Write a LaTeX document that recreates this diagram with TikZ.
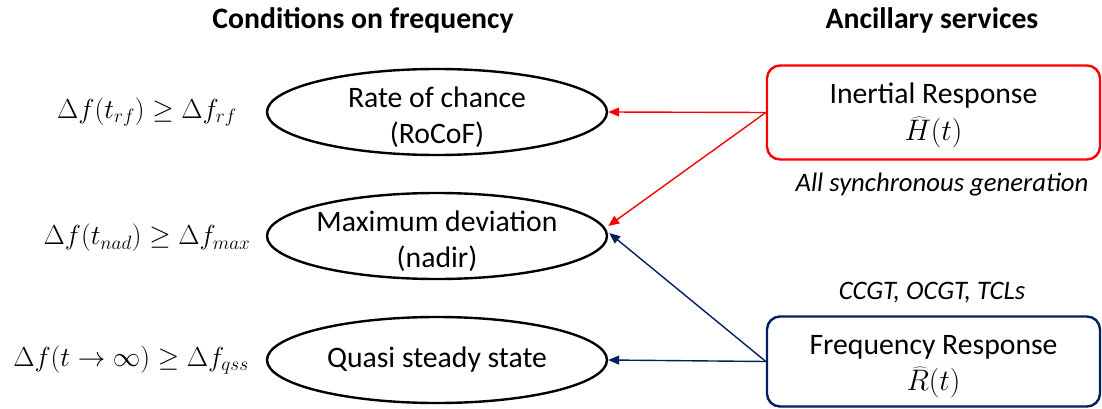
\RequirePackage{fix-cm}
\documentclass[tikz,border=0pt]{standalone}
\usepackage{fontspec}
\setmainfont{Carlito}
\usetikzlibrary{shapes.geometric,arrows.meta,calc}

\definecolor{navy}{HTML}{002060}
\definecolor{pptred}{HTML}{FF0000}

\tikzset{
  body/.style={font=\fontsize{29.7}{36.5}\selectfont},
  header/.style={font=\fontsize{29.7}{34}\selectfont\bfseries},
  note/.style={font=\fontsize{26.7}{30}\selectfont\itshape},
  inner text/.style={body, align=center, inner sep=0pt},
  cond/.style={ellipse, draw=black, line width=2.4pt, minimum width=340pt,
    minimum height=86pt, inner sep=0pt, align=center, body},
  service/.style={rectangle, rounded corners=13pt, line width=2.4pt,
    minimum width=333pt, minimum height=94pt, inner sep=0pt},
  formula/.style={font=\fontsize{27.5}{34}\selectfont, inner sep=0pt},
  link/.style={line width=1.4pt, -{Triangle[length=11pt,width=9pt]}},
}

\begin{document}
\begin{tikzpicture}[x=1pt,y=1pt]
  \useasboundingbox (0,0) rectangle (1102,-409);

  % column headings
  \node[header] (hcond) at (363,-20) {Conditions on frequency};
  \node[header] (hserv) at (932,-20) {Ancillary services};

  % frequency conditions
  \node[cond, label={[inner text, yshift=-5pt]center:{Rate of chance\\(RoCoF)}}]
    (e1) at (437,-112) {};
  \node[cond, label={[inner text, yshift=-5pt]center:{Maximum deviation\\(nadir)}}]
    (e2) at (437,-236) {};
  \node[cond] (e3) at (437,-360) {Quasi steady state};

  % limits on the frequency deviation
  \node[formula] (f1) at (147,-112) {$\Delta f\bigl(t_{rf}\bigr) \geq \Delta f_{rf}$};
  \node[formula] (f2) at (147,-238) {$\Delta f(t_{nad}) \geq \Delta f_{max}$};
  \node[formula] (f3) at (131,-360) {$\Delta f(t \rightarrow \infty) \geq \Delta f_{qss}$};

  % services
  \node[service, draw=pptred,
        label={[inner text, yshift=-3pt]center:{Inertial Response\\$\widehat{H}(t)$}}]
    (b1) at (933.5,-112.5) {};
  \node[service, draw=navy, minimum height=90pt,
        label={[inner text, yshift=-5pt]center:{Frequency Response\\$\widehat{R}(t)$}}]
    (b2) at (933.5,-361.5) {};

  \node[note] (n1) at (942,-185) {All synchronous generation};
  \node[note] (n2) at (932,-293) {CCGT, OCGT, TCLs};

  % links from services to conditions
  \draw[link, pptred] (b1.west) -- (e1.east);
  \draw[link, pptred] (b1.west) -- ($(e2.east)+(0,10)$);
  \draw[link, navy] (b2.west) -- ($(e2.east)+(1,3)$);
  \draw[link, navy] (b2.west) -- (e3.east);
\end{tikzpicture}
\end{document}
